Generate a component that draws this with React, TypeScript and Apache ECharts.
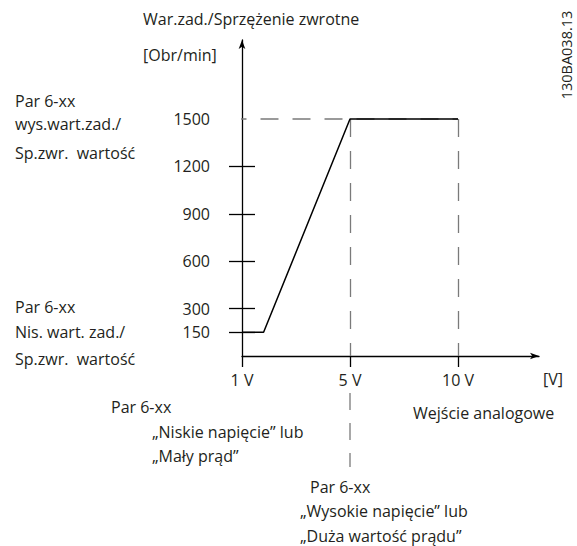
import React, { useEffect, useRef } from "react";
import * as echarts from "echarts";

// Axis ticks (x positions of the voltage ticks on the drawn scale)
const xTickLabels = ["1 V", "5 V", "10 V"];
const xTickPositions = [0, 4, 8];
const yTickValues = [150, 300, 600, 900, 1200, 1500];
const yTickMarks = [150, 300, 600, 900, 1200];

// Characteristic curve
const curveX = [0, 0.8, 4, 8];
const curveY = [150, 150, 1500, 1500];

// Reference (dashed) lines
const refHighValue = 1500;
const refHStartX = -0.5;
const refVerticalX = [4, 8];
const ref5VBelow = [-234, -702];

const FONT = "Open Sans";
const FS = 16;
const TXT = "#231f20";
const DASH = "#7a7a7a";

type Lbl = { t: string; x: number; y: number; align?: string };
const labels: Lbl[] = [
  { t: "War.zad./Sprzężenie zwrotne", x: 143, y: 19 },
  { t: "[Obr/min]", x: 143, y: 55 },
  { t: "Par 6-xx", x: 15, y: 101 },
  { t: "wys.wart.zad./", x: 15, y: 124 },
  { t: "Sp.zwr.  wartość", x: 15, y: 153 },
  { t: "Par 6-xx", x: 15, y: 307 },
  { t: "Nis. wart. zad./", x: 15, y: 332 },
  { t: "Sp.zwr.  wartość", x: 15, y: 359 },
  { t: "[V]", x: 553, y: 379, align: "center" },
  { t: "Wejście analogowe", x: 413, y: 413 },
  { t: "Par 6-xx", x: 111, y: 407 },
  { t: "„Niskie napięcie” lub", x: 152, y: 432 },
  { t: "„Mały prąd”", x: 152, y: 456 },
  { t: "Par 6-xx", x: 310, y: 487 },
  { t: "„Wysokie napięcie” lub", x: 300, y: 511 },
  { t: "„Duża wartość prądu”", x: 300, y: 536 },
];

export default function App() {
  const ref = useRef<HTMLDivElement>(null);
  useEffect(() => {
    if (!ref.current) return;
    const chart = echarts.init(ref.current, undefined, { renderer: "svg" });
    const dash = (pattern: number[] = [18, 14]) => ({
      color: DASH,
      width: 1.3,
      type: pattern as any,
    });
    const graphic: any[] = labels.map((l) => ({
      type: "text",
      x: l.x,
      y: l.y,
      style: {
        text: l.t,
        fill: TXT,
        fontSize: FS,
        fontFamily: FONT,
        textAlign: l.align || "left",
        textVerticalAlign: "middle",
      },
    }));
    graphic.push({
      type: "text",
      x: 566,
      y: 55,
      rotation: Math.PI / 2,
      style: {
        text: "130BA038.13",
        fill: TXT,
        fontSize: 14.5,
        fontFamily: FONT,
        textAlign: "center",
        textVerticalAlign: "middle",
      },
    });
    chart.setOption({
      animation: false,
      backgroundColor: "#ffffff",
      grid: { left: 242, right: 38, top: 40, bottom: 190, containLabel: false },
      xAxis: {
        type: "value",
        min: 0,
        max: 11,
        axisLine: {
          show: true,
          onZero: false,
          symbol: ["none", "arrow"],
          symbolSize: [5, 9],
          lineStyle: { color: "#000", width: 1.3 },
        },
        splitLine: { show: false },
        axisTick: {
          show: true,
          customValues: xTickPositions,
          length: 11,
          lineStyle: { color: "#000", width: 1.3 },
        },
        axisLabel: {
          customValues: xTickPositions,
          margin: 16,
          color: TXT,
          fontSize: FS,
          fontFamily: FONT,
          formatter: (v: number) => {
            const i = xTickPositions.indexOf(v);
            return i >= 0 ? xTickLabels[i] : "";
          },
        },
      },
      yAxis: [
        {
          type: "value",
          min: 0,
          max: 2000,
          axisLine: {
            show: true,
            onZero: false,
            symbol: ["none", "arrow"],
            symbolSize: [5, 9],
            lineStyle: { color: "#000", width: 1.3 },
          },
          splitLine: { show: false },
          axisTick: {
            show: true,
            customValues: yTickMarks,
            length: 13,
            lineStyle: { color: "#000", width: 1.3 },
          },
          axisLabel: {
            customValues: yTickValues,
            margin: 32,
            color: TXT,
            fontSize: FS,
            fontFamily: FONT,
            formatter: (v: number) => String(v),
          },
        },
        {
          type: "value",
          min: 0,
          max: 2000,
          position: "left",
          axisLine: { show: false },
          splitLine: { show: false },
          axisLabel: { show: false },
          axisTick: {
            show: true,
            inside: true,
            customValues: yTickMarks,
            length: 13,
            lineStyle: { color: "#000", width: 1.3 },
          },
        },
      ],
      series: [
        {
          type: "line",
          data: [
            [refHStartX, refHighValue],
            [refVerticalX[1], refHighValue],
          ],
          symbol: "none",
          clip: false,
          lineStyle: dash(),
          z: 1,
          markLine: {
            silent: true,
            symbol: ["none", "none"],
            label: { show: false },
            lineStyle: dash(),
            data: refVerticalX.map((x) => [
              { coord: [x, refHighValue] },
              { coord: [x, 0] },
            ]),
          },
        },
        {
          type: "line",
          data: ref5VBelow.map((y) => [refVerticalX[0], y]),
          symbol: "none",
          clip: false,
          lineStyle: dash([17, 13]),
          z: 1,
        },
        {
          type: "line",
          data: curveX.map((x, i) => [x, curveY[i]]),
          symbol: "none",
          clip: false,
          lineStyle: { color: "#000", width: 1.5 },
          z: 5,
        },
      ],
      graphic,
    });
    return () => chart.dispose();
  }, []);
  return (
    <div
      ref={ref}
      style={{ position: "fixed", left: 0, top: 0, width: 577, height: 546 }}
    />
  );
}
